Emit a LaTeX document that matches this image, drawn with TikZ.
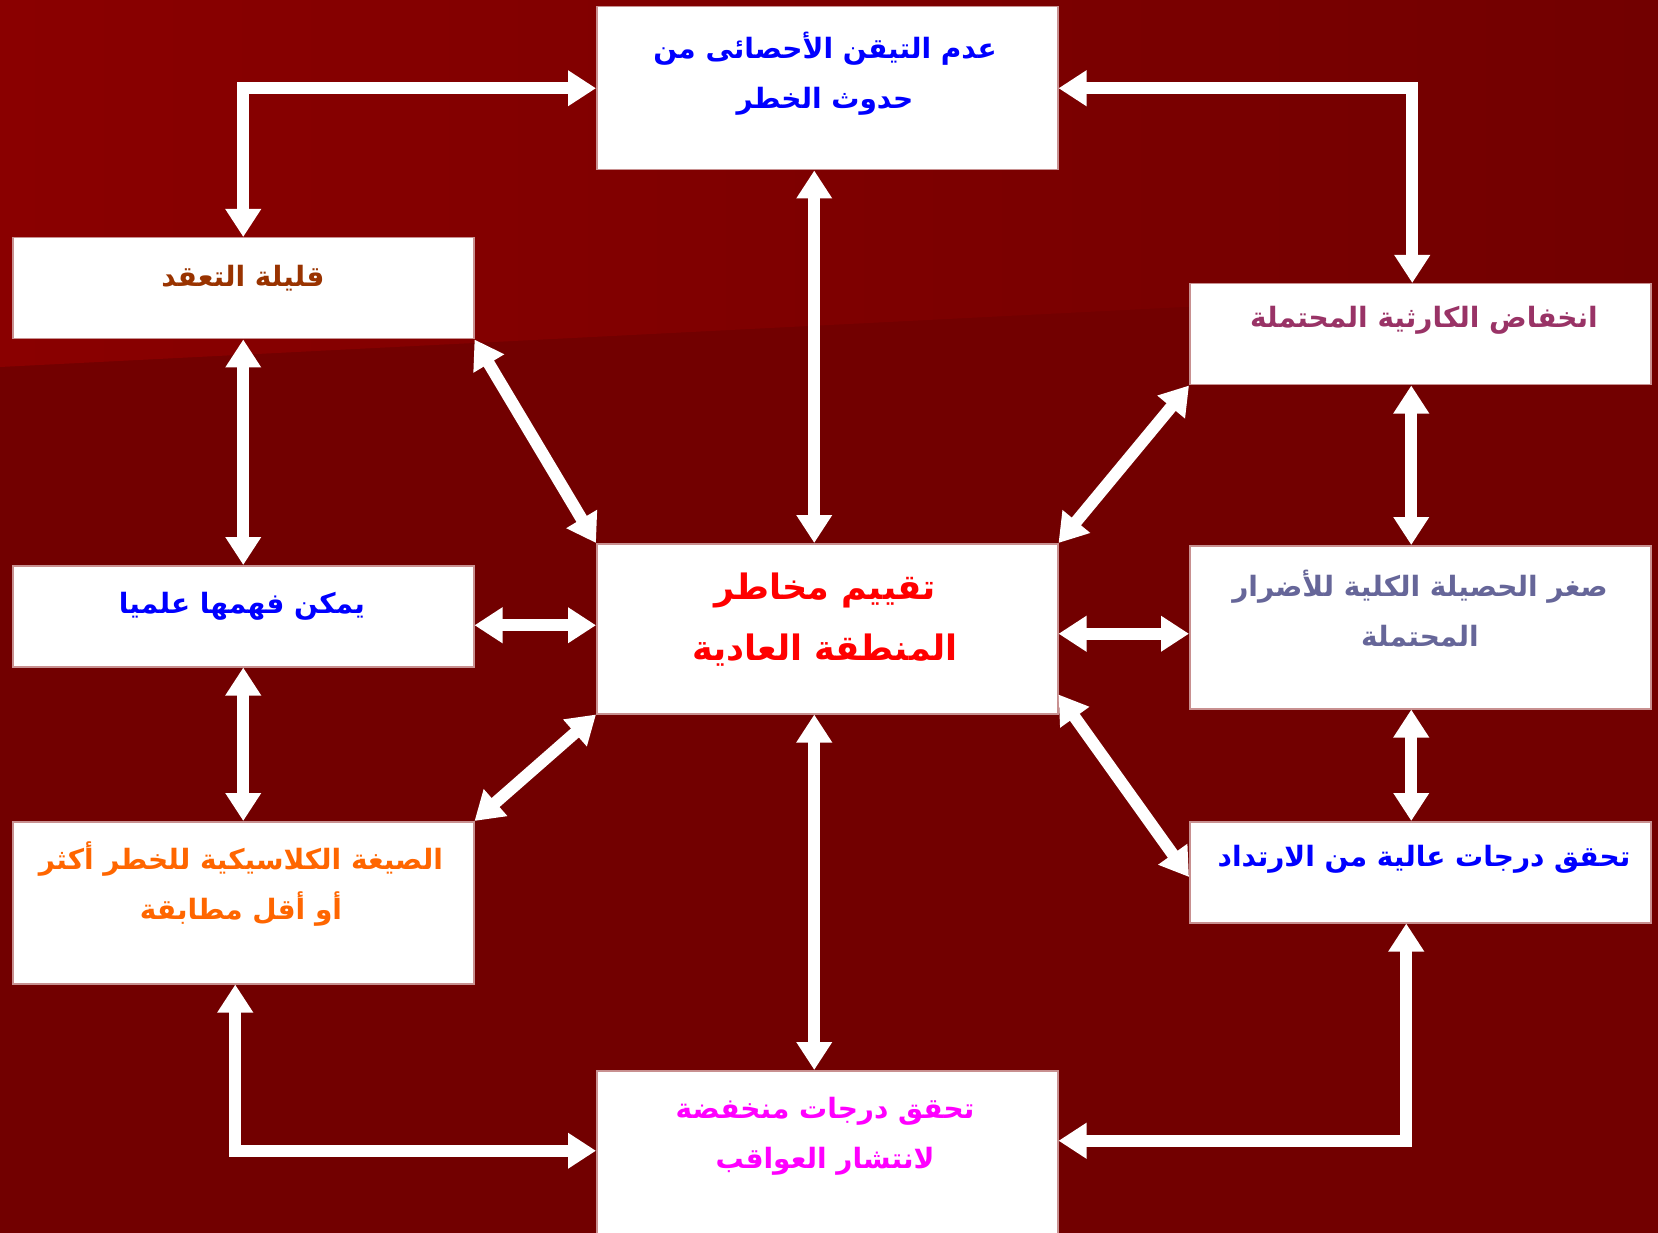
\documentclass[tikz,border=0pt]{standalone}
\usepackage{fontspec}
\usetikzlibrary{arrows.meta}
\TeXXeTstate=1
\newfontfamily\arabicfont[Script=Arabic]{DejaVu Sans}

\definecolor{bgdark}{HTML}{720000}
\definecolor{bglight}{HTML}{8A0000}
\definecolor{boxline}{HTML}{C89090}
\definecolor{txtblue}{HTML}{0000FF}
\definecolor{txtbrown}{HTML}{993300}
\definecolor{txtmauve}{HTML}{993366}
\definecolor{txtslate}{HTML}{666699}
\definecolor{txtorange}{HTML}{FF6600}
\definecolor{txtmagenta}{HTML}{FF00FF}

\newcommand*{\ar}[1]{\beginR #1\endR}
\newcommand*{\boxw}{461}

\begin{document}
\begin{tikzpicture}[x=1pt,y=-1pt,
	box/.style={draw=boxline,fill=white,line width=1.5pt,minimum width=\boxw pt,inner sep=0pt,anchor=north west},
	txt/.style={align=center,font=\arabicfont\bfseries\fontsize{28}{50}\selectfont},
	link/.style={draw=white,line width=12pt,line join=miter,{Triangle[length=28pt,width=34pt]}-{Triangle[length=28pt,width=34pt]}}]

	\clip (0,0) rectangle (1658,1233);

	% background
	\fill[bgdark] (0,0) rectangle (1658,1233);
	\shade[left color=bglight,right color=bgdark] (0,0) -- (1658,0) -- (1658,283) -- (0,367) -- cycle;

	% boxes
	\node[box,minimum height=163pt] (top) at (596,6) {};
	\node[box,minimum height=101pt] (lt) at (12,237) {};
	\node[box,minimum height=101pt] (rt) at (1189,283) {};
	\node[box,minimum height=101pt] (lm) at (12,565) {};
	\node[box,minimum height=170pt] (ctr) at (596,543) {};
	\node[box,minimum height=163pt] (rm) at (1189,545) {};
	\node[box,minimum height=162pt] (lb) at (12,821) {};
	\node[box,minimum height=101pt] (rb) at (1189,821) {};
	\node[box,minimum height=180pt] (bot) at (596,1070) {};

	% texts
	\node[txt,text=txtblue] (topT) at (825,74) {\ar{عدم التيقن الأحصائى من}\\\ar{حدوث الخطر}};
	\node[txt,text=txtbrown] (ltT) at (243,278) {\ar{قليلة التعقد}};
	\node[txt,text=txtmauve] (rtT) at (1424,320) {\ar{انخفاض الكارثية المحتملة}};
	\node[txt,text=txtblue] (lmT) at (242,606) {\ar{يمكن فهمها علميا}};
	\node[txt,text=red,font=\arabicfont\bfseries\fontsize{35}{61}\selectfont] (ctrT) at (825,620) {\ar{تقييم مخاطر}\\\ar{المنطقة العادية}};
	\node[txt,text=txtslate] (rmT) at (1420,609) {\ar{صغر الحصيلة الكلية للأضرار}\\\ar{المحتملة}};
	\node[txt,text=txtorange] (lbT) at (241,884) {\ar{الصيغة الكلاسيكية للخطر أكثر}\\\ar{أو أقل مطابقة}};
	\node[txt,text=txtblue] (rbT) at (1424,859) {\ar{تحقق درجات عالية من الارتداد}};
	\node[txt,text=txtmagenta] (botT) at (825,1136) {\ar{تحقق درجات منخفضة}\\\ar{لانتشار العواقب}};

	% connectors
	\draw[link] (top.west) -| (lt.north);
	\draw[link] (top.east) -| ([xshift=-8pt]rt.north);
	\draw[link] ([xshift=-13pt]top.south) -- ([xshift=-13pt]ctr.north);
	\draw[link] (lt.south) -- (lm.north);
	\draw[link] (lm.south) -- (lb.north);
	\draw[link] ([xshift=-9pt]rt.south) -- ([xshift=-9pt]rm.north);
	\draw[link] ([xshift=-9pt]rm.south) -- ([xshift=-9pt]rb.north);
	\draw[link] (lt.south east) -- (ctr.north west);
	\draw[link] ([yshift=-9pt]lm.east) -- ([yshift=-9pt]lm.east -| ctr.west);
	\draw[link] (lb.north east) -- (ctr.south west);
	\draw[link] (rt.south west) -- (ctr.north east);
	\draw[link] ([yshift=-5pt]ctr.east) -- ([yshift=-5pt]ctr.east -| rm.west);
	\draw[link] ([yshift=20pt]ctr.south east) -- ([yshift=-56pt]rb.north west);
	\draw[link] ([xshift=-13pt]ctr.south) -- ([xshift=-13pt]bot.north);
	\draw[link] ([xshift=-8pt]lb.south) |- ([yshift=10pt]bot.west);
	\draw[link] ([xshift=-14pt]rb.south) |- ([yshift=20pt]bot.east);

\end{tikzpicture}
\end{document}
